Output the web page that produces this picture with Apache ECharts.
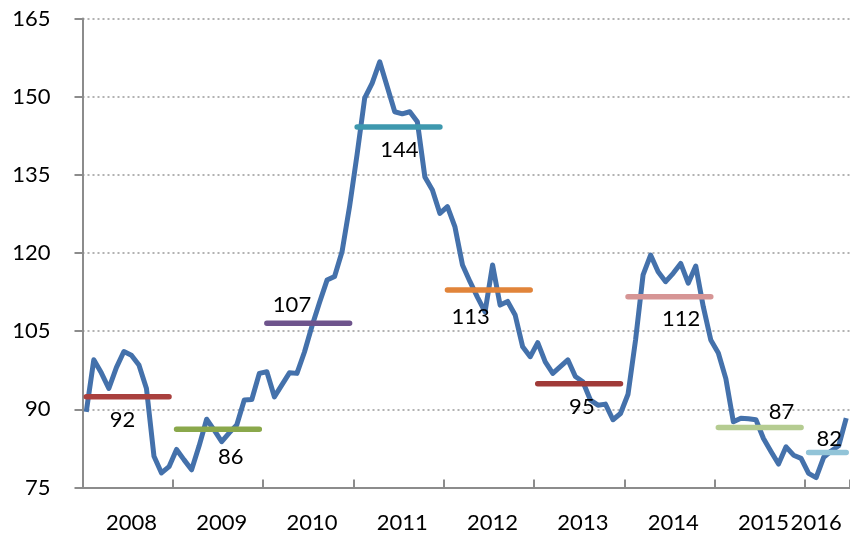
<html>
<head>
    <meta charset="utf-8" />
    <script src="https://cdn.jsdelivr.net/npm/echarts@6/dist/echarts.min.js"></script>
    <style>
        html, body { margin: 0; padding: 0; background: #fff; }
    </style>
</head>
<body>
    <div id="main" style="width:850px;height:537px;"></div>
    <script>
        // monthly index, Jan 2008 .. Jun 2016
        var years = ['2008', '2009', '2010', '2011', '2012', '2013', '2014', '2015', '2016'];
        var v2008 = [89.5, 99.5, 97, 94, 98, 101.1, 100.4, 98.5, 94, 81, 77.8, 79];
        var v2009 = [82.3, 80.3, 78.4, 83, 88.1, 86, 83.8, 85.5, 87, 91.8, 91.9, 96.9];
        var v2010 = [97.2, 92.4, 94.7, 97, 96.9, 101, 106, 110.5, 114.8, 115.5, 120.3, 129];
        var v2011 = [139, 149.7, 152.6, 156.7, 151.9, 147.1, 146.7, 147.1, 145.2, 134.6, 132.1, 127.6];
        var v2012 = [128.9, 125, 117.7, 114.5, 111.5, 108.7, 117.7, 110, 110.7, 108.1, 102, 100.1];
        var v2013 = [102.8, 99.1, 96.9, 98.2, 99.5, 96.3, 95.3, 91.8, 90.8, 91, 88, 89.2];
        var v2014 = [92.9, 103.3, 115.8, 119.6, 116.4, 114.5, 116.1, 118, 114.2, 117.5, 109.7, 103.3];
        var v2015 = [100.8, 95.9, 87.6, 88.3, 88.2, 88, 84.4, 81.9, 79.5, 82.8, 81.2, 80.6];
        var v2016 = [77.7, 76.9, 80.8, 82, 83, 88.3];

        // yearly averages
        var yearAvg = [92.4, 86.2, 106.5, 144.2, 112.9, 94.9, 111.6, 86.5, 81.7];
        var avgLabels = ['92', '86', '107', '144', '113', '95', '112', '87', '82'];

        var yTicks = [75, 90, 105, 120, 135, 150, 165];

        // styling
        var avgColors = ['#A9403E', '#8AA84B', '#6E548C', '#3E98AE', '#E1843A',
                         '#A03A38', '#D69595', '#B5CC91', '#92C4D8'];
        var labelOffsets = [[-9, 23], [9, 28], [-20, -18], [-3, 23], [-22, 27],
                            [-1, 23], [8, 22], [18, -16], [-2, -14]];

        var yearly = [v2008, v2009, v2010, v2011, v2012, v2013, v2014, v2015, v2016];
        var values = [].concat.apply([], yearly);
        var categories = [];
        var yearStart = [];
        yearly.forEach(function (arr, k) {
            yearStart.push(categories.length);
            arr.forEach(function (v, m) {
                categories.push(years[k] + '-' + (m < 9 ? '0' : '') + (m + 1));
            });
        });
        var lastIdx = categories.length - 1;

        var series = [{
            name: 'index',
            type: 'line',
            data: values,
            showSymbol: false,
            symbol: 'none',
            lineStyle: { color: '#4471AB', width: 5, join: 'round' },
            z: 2
        }];

        var labelData = [];
        yearly.forEach(function (arr, k) {
            var s = yearStart[k], n = arr.length;
            series.push({
                type: 'line',
                data: categories.map(function (c, i) {
                    return (i >= s && i < s + n) ? yearAvg[k] : null;
                }),
                showSymbol: false,
                symbol: 'none',
                lineStyle: { color: avgColors[k], width: 5.5, cap: 'round' },
                z: 3
            });
            labelData.push({
                value: [s + Math.floor(n / 2), yearAvg[k]],
                label: { formatter: avgLabels[k], offset: labelOffsets[k] }
            });
        });

        series.push({
            type: 'scatter',
            data: labelData,
            symbolSize: 1,
            itemStyle: { color: 'transparent', opacity: 1 },
            label: {
                show: true,
                position: 'inside',
                color: '#000',
                opacity: 1,
                textBorderWidth: 0,
                fontFamily: 'Lato',
                fontSize: 22
            },
            z: 4
        });

        var myChart = echarts.init(document.getElementById('main'));
        var option = {
            animation: false,
            grid: {
                left: 82.5, right: 0, top: 18.5, bottom: 49.5,
                containLabel: false,
                outerBoundsMode: 'none'
            },
            xAxis: {
                type: 'category',
                data: categories,
                boundaryGap: true,
                axisLine: { lineStyle: { color: '#8c8c8c', width: 2 } },
                axisTick: {
                    show: true,
                    inside: true,
                    length: 8,
                    interval: function (i) { return i % 12 === 0; },
                    lineStyle: { color: '#8c8c8c', width: 2 }
                },
                axisLabel: {
                    interval: function (i) {
                        return (i % 12 === 6 && i < 96) || i === lastIdx - 4;
                    },
                    formatter: function (v) { return v.slice(0, 4); },
                    color: '#000',
                    fontFamily: 'Lato',
                    fontSize: 22,
                    margin: 24
                },
                splitLine: { show: false }
            },
            yAxis: {
                type: 'value',
                min: yTicks[0],
                max: yTicks[yTicks.length - 1],
                interval: 15,
                axisLine: { show: true, lineStyle: { color: '#8c8c8c', width: 2 } },
                axisTick: { show: true, length: 8, lineStyle: { color: '#8c8c8c', width: 2 } },
                axisLabel: {
                    color: '#000',
                    fontFamily: 'Lato',
                    fontSize: 22,
                    margin: 32
                },
                splitLine: { lineStyle: { color: '#999', type: [2, 3], width: 1.5 } }
            },
            series: series
        };
        myChart.setOption(option);
    </script>
</body>
</html>
